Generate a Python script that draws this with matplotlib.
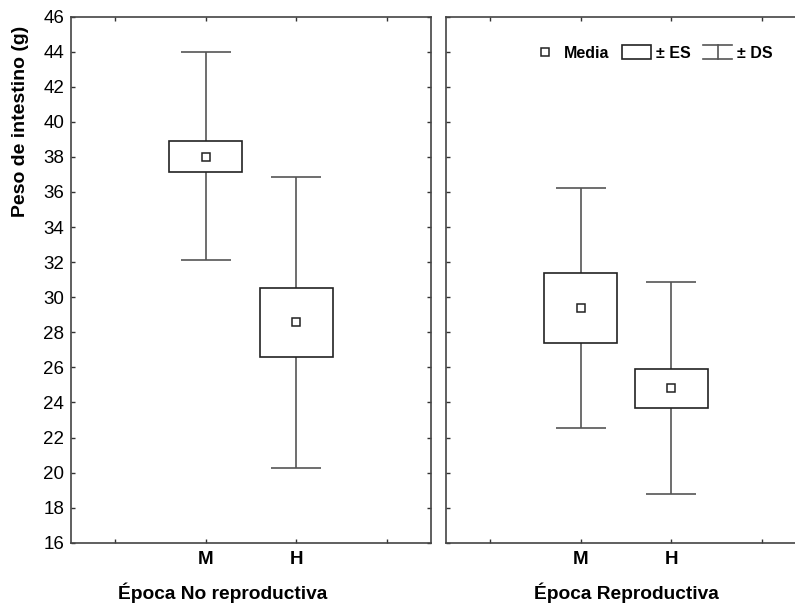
import numpy as np
import matplotlib
matplotlib.use("Agg")
import matplotlib.pyplot as plt
from matplotlib.legend_handler import HandlerBase
from matplotlib.lines import Line2D
from matplotlib.patches import Rectangle

plt.rcParams['font.family'] = ['Liberation Sans', 'DejaVu Sans']

groups = ['M', 'H']
panels = ['Época No reproductiva', 'Época Reproductiva']
# mean, SE low/high, SD low/high for each panel (M, H)
media = [[38.0, 28.6], [29.4, 24.8]]
es_lo = [[37.13, 26.6], [27.4, 23.7]]
es_hi = [[38.92, 30.55], [31.37, 25.9]]
ds_lo = [[32.1, 20.25], [22.55, 18.8]]
ds_hi = [[44.0, 36.88], [36.23, 30.89]]
pos = [1, 2]

edge = '#222222'
wcol = '#555555'


class HandlerDS(HandlerBase):
    def create_artists(self, legend, orig, xd, yd, w, h, fontsize, trans):
        x0, x1 = xd, xd + w
        xm = xd + w / 2
        y0, y1 = yd - 1, yd + h + 1
        a = Line2D([x0, x1], [y1, y1], color=wcol, lw=1.2, transform=trans)
        b = Line2D([xm, xm], [y0, y1], color=wcol, lw=1.2, transform=trans)
        c = Line2D([x0, x1], [y0, y0], color=wcol, lw=1.2, transform=trans)
        return [a, b, c]


class HandlerES(HandlerBase):
    def create_artists(self, legend, orig, xd, yd, w, h, fontsize, trans):
        r = Rectangle((xd, yd - 1), w, h + 2, facecolor='white', edgecolor=edge,
                      lw=1.2, transform=trans)
        return [r]


fig = plt.figure(figsize=(7.95, 6.07), dpi=100)
W = 360 / 795
ax1 = fig.add_axes([71 / 795, 0.1059, W, 0.8667])
ax2 = fig.add_axes([446 / 795, 0.1059, W, 0.8667])

for k, ax in enumerate([ax1, ax2]):
    m = np.array(media[k])
    lo = np.array(ds_lo[k])
    hi = np.array(ds_hi[k])
    ax.errorbar(pos, m, yerr=[m - lo, hi - m], fmt='none', ecolor=wcol,
                elinewidth=1.2, capsize=18, capthick=1.2, zorder=1)
    ax.bar(pos, np.array(es_hi[k]) - np.array(es_lo[k]), bottom=es_lo[k],
           width=0.81, facecolor='white', edgecolor=edge, linewidth=1.2, zorder=2)
    ax.plot(pos, m, 's', ms=5.5, mfc='white', mec=edge, mew=1.1, zorder=3)
    ax.set_xlim(-0.49, 3.49)
    ax.set_ylim(16, 46)
    ax.set_yticks(np.arange(16, 47, 2))
    ax.set_xticks([0, 1, 2, 3])
    ax.set_xticklabels(['', 'M', 'H', ''])
    ax.tick_params(direction='in', length=3, width=1, top=True, right=True,
                   colors='#333333', labelcolor='black', pad=6)
    ax.tick_params(axis='x', labelsize=13.5)
    plt.setp(ax.get_xticklabels(), fontweight='bold')
    for s in ax.spines.values():
        s.set_color('#444444')
        s.set_linewidth(1.2)
    ax.set_xlabel(panels[k], fontsize=13.8, fontweight='bold')

ax1.xaxis.set_label_coords(0.422, -0.075)
ax2.xaxis.set_label_coords(0.5, -0.075)
ax1.tick_params(axis='y', labelsize=13.5, pad=5)
ax1.set_ylabel('Peso de intestino (g)', fontsize=14, fontweight='bold')
ax1.yaxis.set_label_coords(-0.117, 0.80)
ax2.tick_params(axis='y', labelleft=False)

h_media = Line2D([], [], ls='none', marker='s', ms=5.5, mfc='white', mec=edge, mew=1.1)
h_es = Rectangle((0, 0), 1, 1)
h_ds = Line2D([], [])
ax2.legend([h_media, h_es, h_ds], ['Media', '± ES', '± DS'],
           handler_map={h_es: HandlerES(), h_ds: HandlerDS()},
           ncol=3, frameon=False, loc='upper left', bbox_to_anchor=(0.195, 0.972),
           prop={'weight': 'bold', 'size': 11.5}, handlelength=1.8, handletextpad=0.3,
           columnspacing=0.8)

plt.savefig('out.png', dpi=100)
